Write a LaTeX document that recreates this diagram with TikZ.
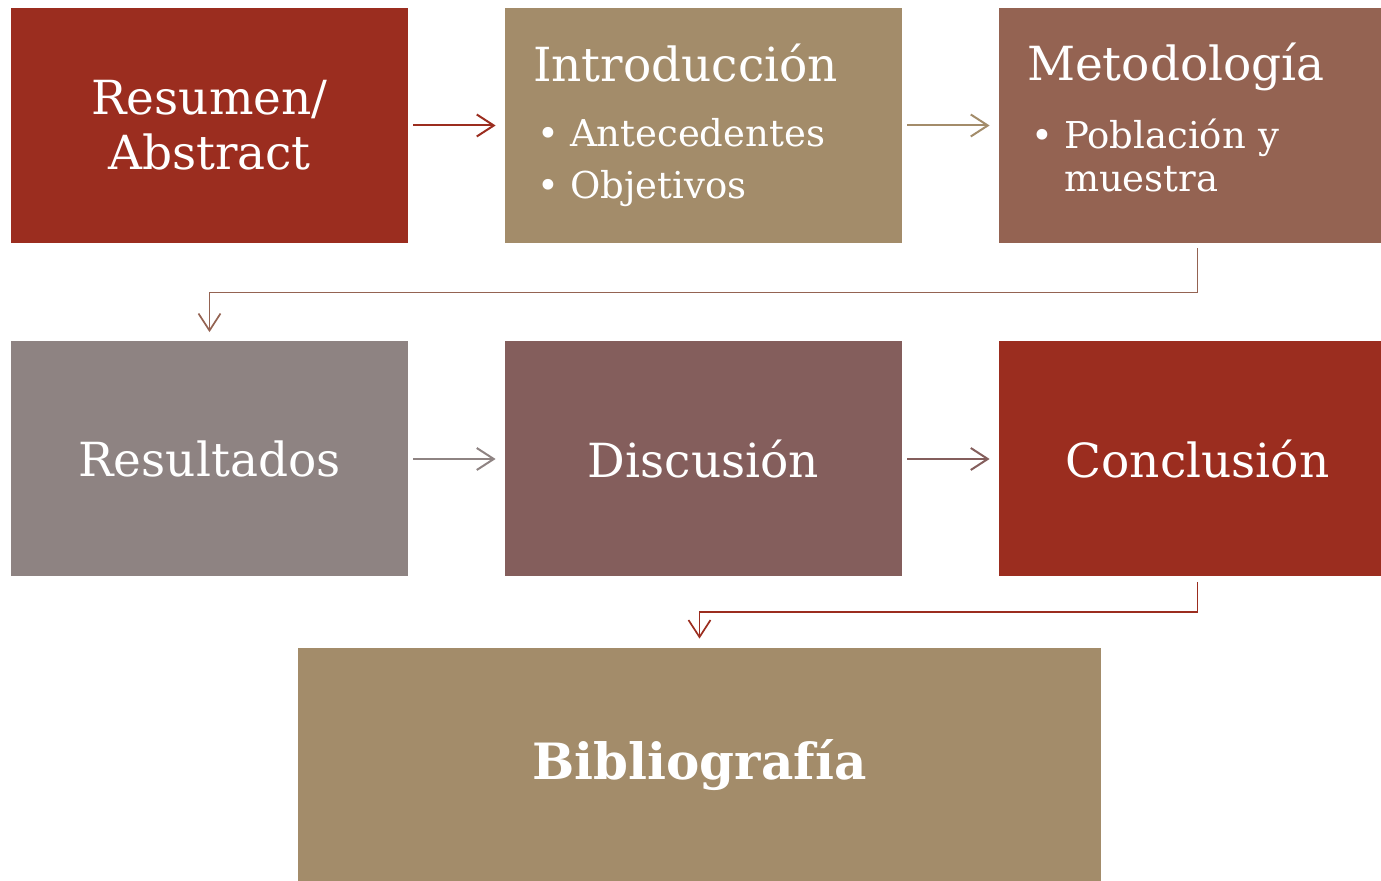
\documentclass[tikz,border=0pt]{standalone}
\usepackage{fontspec}
\setmainfont{DejaVu Serif}
\usetikzlibrary{arrows.meta}
\definecolor{rojo}{HTML}{9B2D1F}
\definecolor{tan}{HTML}{A38C6A}
\definecolor{marron}{HTML}{946352}
\definecolor{gris}{HTML}{8E8382}
\definecolor{vino}{HTML}{845E5C}
\newcommand{\ttl}{\fontsize{23.5}{27.5}\selectfont}
\newcommand{\bul}{\hspace*{2pt}\makebox[16.5pt][l]{\textbullet}}

\begin{document}
\begin{tikzpicture}
[
x=0.5pt,y=-0.5pt,
box/.style={fill=#1,text=white,minimum width=198.5pt,minimum height=117.5pt,inner sep=0pt,font=\ttl},
listbox/.style={box=#1,text width=170.5pt,align=left,font=\fontsize{18.5}{21.5}\selectfont},
link/.style={draw=#1,line width=1pt,-{Straight Barb[length=8.5pt,width=11pt]},shorten <=2.5pt,shorten >=4.5pt},
elbow/.style={link=#1,line width=0.85pt},
]
\clip (0,0) rectangle (1381,881);

%Place the nodes
\node[box=rojo,align=center] (res) at (209.5,125.5) {Resumen/\\Abstract};
\node[listbox=tan] (intro) at (703.5,125.5) {{\ttl Introducción}\\[11pt]\bul Antecedentes\\[4.5pt]\bul Objetivos};
\node[listbox=marron] (met) at (1197.5,125.5) {{\ttl Metodología}\\[12.5pt]\bul Población y\\\hspace*{18.5pt}muestra\rule[-8pt]{0pt}{8pt}};
\node[box=gris] (resul) at (209.5,459) {Resultados};
\node[box=vino] (disc) at (703.5,459) {Discusión};
\node[box=rojo] (conc) at (1197.5,459) {Conclusión};
\node[box=tan,minimum width=401.5pt,font=\fontsize{25}{27.5}\selectfont\bfseries] (bib) at (699.5,765.5) {Bibliografía};

%Draw the connections
\draw[link=rojo] (res) -- (intro);
\draw[link=tan] (intro) -- (met);
\draw[elbow=marron] (met.south) -- ++(0,49) -| (resul.north);
\draw[link=gris] (resul) -- (disc);
\draw[link=vino] (disc) -- (conc);
\draw[elbow=rojo] (conc.south) -- ++(0,35) -| (bib.north);
\end{tikzpicture}
\end{document}
